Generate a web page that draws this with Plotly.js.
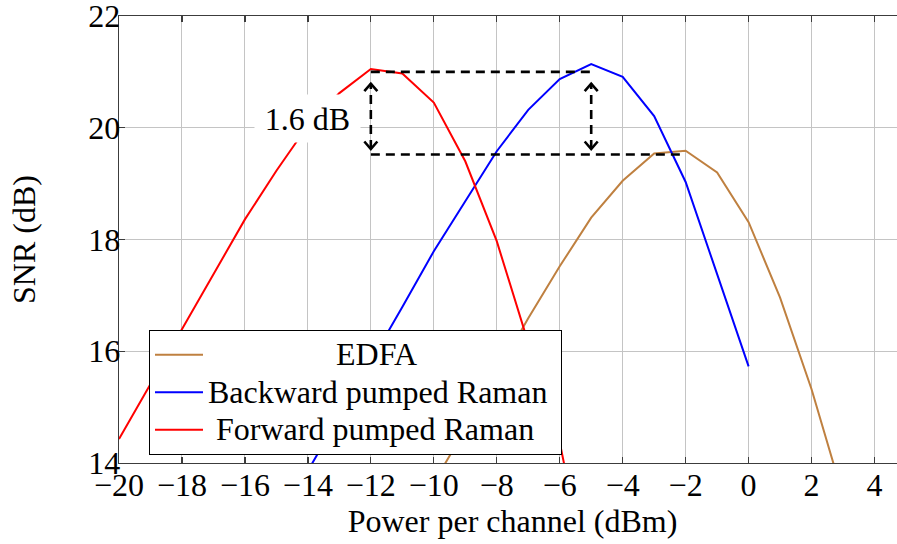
<!DOCTYPE html>
<html>
<head>
<meta charset="utf-8">
<script src="https://cdn.plot.ly/plotly-3.0.1.min.js"></script>
<style>
html, body { margin: 0; padding: 0; overflow: hidden; background: #fff; }
#chart { width: 907px; height: 544px; }
</style>
</head>
<body>
<div id="chart"></div>
<script>
// Power per channel (dBm) and SNR (dB)
const xEdfa = [-10, -9, -8, -7, -6, -5, -4, -3, -2, -1, 0, 1, 2, 3];
const snrEdfa = [13.65, 14.6, 15.6, 16.59, 17.52, 18.39, 19.05, 19.54, 19.59, 19.2, 18.31, 16.96, 15.32, 13.41];

const xBackward = [-14, -13, -12, -11, -10, -9, -8, -7, -6, -5, -4, -3, -2, -1, 0];
const snrBackward = [13.86, 14.83, 15.8, 16.79, 17.79, 18.68, 19.58, 20.32, 20.87, 21.14, 20.91, 20.21, 19.03, 17.38, 15.73];

const xForward = [-20, -19, -18, -17, -16, -15, -14, -13, -12, -11, -10, -9, -8, -7, -6, -5];
const snrForward = [14.43, 15.41, 16.39, 17.37, 18.36, 19.23, 20.04, 20.62, 21.05, 20.97, 20.45, 19.4, 17.97, 16.15, 14.37, 11.6];

const seriesNames = ['EDFA', 'Backward pumped Raman', 'Forward pumped Raman'];
const seriesColors = ['#BF8040', '#0000FF', '#FF0000'];

const xTicks = [-20, -18, -16, -14, -12, -10, -8, -6, -4, -2, 0, 2, 4];
const yTicks = [14, 16, 18, 20, 22];

// Annotation of the 1.6 dB gap
const gapX = [-12, -5, -2];          // left x, right x of upper line, right x of lower line
const gapY = [21.0, 19.52];          // upper and lower dashed levels
const arrowTips = [20.79, 19.62];    // arrow tip levels
const gapLabel = '1.6 dB';
const gapLabelPos = [-14.02, 20.16];

const FONT = '"Liberation Serif", "Times New Roman", Times, serif';
const FS = 32;
const nb = '\u00a0';
const big = s => '<span style="font-size:' + FS + 'px">' + s + '</span>';

const traces = [
  {x: xEdfa, y: snrEdfa, name: big(nb.repeat(16) + seriesNames[0])},
  {x: xBackward, y: snrBackward, name: big(seriesNames[1] + nb)},
  {x: xForward, y: snrForward, name: big(nb + seriesNames[2])}
].map((t, i) => Object.assign(t, {
  type: 'scatter', mode: 'lines',
  line: {color: seriesColors[i], width: 2}
}));

const dashStyle = {color: '#000', width: 2.6, dash: '9px,6px'};
const shapes = [
  {type: 'line', xref: 'x', yref: 'y', x0: gapX[0], x1: gapX[1], y0: gapY[0], y1: gapY[0], line: dashStyle},
  {type: 'line', xref: 'x', yref: 'y', x0: gapX[0], x1: gapX[2], y0: gapY[1], y1: gapY[1], line: dashStyle},
  {type: 'line', xref: 'x', yref: 'y', x0: gapX[0], x1: gapX[0], y0: arrowTips[1], y1: arrowTips[0], line: dashStyle},
  {type: 'line', xref: 'x', yref: 'y', x0: gapX[1], x1: gapX[1], y0: arrowTips[1], y1: arrowTips[0], line: dashStyle}
];
// open chevron arrow heads, sized in pixels around the tips
[gapX[0], gapX[1]].forEach(xx => {
  shapes.push({type: 'path', xref: 'x', yref: 'y', xsizemode: 'pixel', ysizemode: 'pixel',
               xanchor: xx, yanchor: arrowTips[0], path: 'M-6.5,-7.5L0,0L6.5,-7.5',
               line: {color: '#000', width: 2.6}});
  shapes.push({type: 'path', xref: 'x', yref: 'y', xsizemode: 'pixel', ysizemode: 'pixel',
               xanchor: xx, yanchor: arrowTips[1], path: 'M-6.5,7.5L0,0L6.5,7.5',
               line: {color: '#000', width: 2.6}});
});

const annotations = [{
  x: gapLabelPos[0], y: gapLabelPos[1], xref: 'x', yref: 'y', text: gapLabel, showarrow: false,
  bgcolor: '#fff', width: 105, height: 47, borderpad: 0,
  font: {family: FONT, size: FS, color: '#000'}
}];

const axisCommon = {
  showgrid: true, gridcolor: '#c4c4c4', gridwidth: 1,
  showline: true, linecolor: '#3c3c3c', linewidth: 1.3, mirror: 'ticks',
  ticks: 'inside', ticklen: 6, tickwidth: 1.3, tickcolor: '#3c3c3c',
  zeroline: false, tickfont: {family: FONT, size: FS, color: '#000'},
  tickmode: 'array', ticklabeloverflow: 'allow'
};

const layout = {
  width: 907, height: 544,
  margin: {l: 119, r: 1, t: 16, b: 81},
  paper_bgcolor: '#fff', plot_bgcolor: '#fff',
  font: {family: FONT, size: FS, color: '#000'},
  showlegend: true,
  xaxis: Object.assign({}, axisCommon, {
    range: [-20, 5], tickvals: xTicks, ticklabelstandoff: -7,
    title: {text: 'Power per channel (dBm)', font: {family: FONT, size: FS, color: '#000'}, standoff: 8}
  }),
  yaxis: Object.assign({}, axisCommon, {
    range: [14, 22], tickvals: yTicks, ticklabelstandoff: -9,
    title: {text: 'SNR (dB)', font: {family: FONT, size: FS, color: '#000'}, standoff: 43}
  }),
  legend: {
    x: 30 / 787, y: (463 - 330) / 447, xanchor: 'left', yanchor: 'top',
    bgcolor: '#fff', bordercolor: '#000', borderwidth: 1,
    font: {family: FONT, size: 26.5, color: '#000'},
    itemwidth: 48, tracegroupgap: 0
  },
  shapes: shapes,
  annotations: annotations
};

Plotly.newPlot('chart', traces, layout, {displayModeBar: false, staticPlot: true});
</script>
</body>
</html>
